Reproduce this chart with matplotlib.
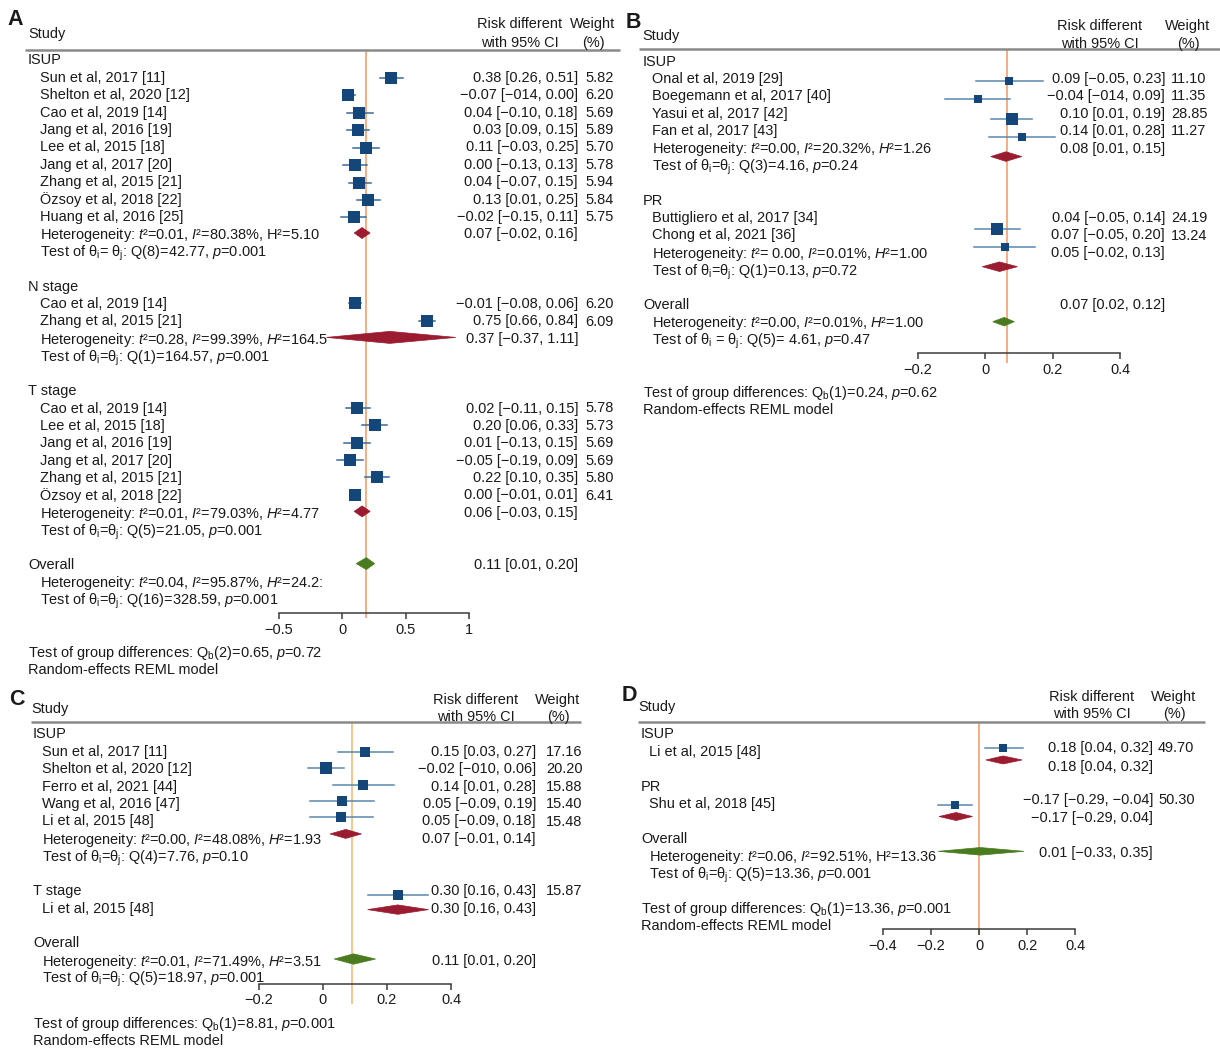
import matplotlib
matplotlib.use("Agg")
import matplotlib.pyplot as plt
from matplotlib.patches import Polygon

plt.rcParams['font.family'] = ['Liberation Sans', 'DejaVu Sans']
plt.rcParams['mathtext.fontset'] = 'custom'
plt.rcParams['mathtext.rm'] = 'Liberation Sans'
plt.rcParams['mathtext.it'] = 'Liberation Sans:italic'
plt.rcParams['mathtext.bf'] = 'Liberation Sans:bold'

T = r"Test of θ$_\mathrm{i}$=θ$_\mathrm{j}$: "

# ---------------- panel A data ----------------
A_labels = ["ISUP", "Sun et al, 2017 [11]", "Shelton et al, 2020 [12]", "Cao et al, 2019 [14]",
            "Jang et al, 2016 [19]", "Lee et al, 2015 [18]", "Jang et al, 2017 [20]",
            "Zhang et al, 2015 [21]", "Özsoy et al, 2018 [22]", "Huang et al, 2016 [25]",
            r"Heterogeneity: $\mathit{t}$²=0.01, $\mathit{I}$²=80.38%, H²=5.10",
            r"Test of θ$_\mathrm{i}$= θ$_\mathrm{j}$: Q(8)=42.77, $\mathit{p}$=0.001", "",
            "N stage", "Cao et al, 2019 [14]", "Zhang et al, 2015 [21]",
            r"Heterogeneity: $\mathit{t}$²=0.28, $\mathit{I}$²=99.39%, $\mathit{H}$²=164.5",
            T + r"Q(1)=164.57, $\mathit{p}$=0.001", "",
            "T stage", "Cao et al, 2019 [14]", "Lee et al, 2015 [18]", "Jang et al, 2016 [19]",
            "Jang et al, 2017 [20]", "Zhang et al, 2015 [21]", "Özsoy et al, 2018 [22]",
            r"Heterogeneity: $\mathit{t}$²=0.01, $\mathit{I}$²=79.03%, $\mathit{H}$²=4.77",
            T + r"Q(5)=21.05, $\mathit{p}$=0.001", "",
            "Overall",
            r"Heterogeneity: $\mathit{t}$²=0.04, $\mathit{I}$²=95.87%, $\mathit{H}$²=24.2:",
            T + r"Q(16)=328.59, $\mathit{p}$=0.001"]
A_vals = ["0.38 [0.26, 0.51]", "−0.07 [−014, 0.00]", "0.04 [−0.10, 0.18]", "0.03 [0.09, 0.15]",
          "0.11 [−0.03, 0.25]", "0.00 [−0.13, 0.13]", "0.04 [−0.07, 0.15]", "0.13 [0.01, 0.25]",
          "−0.02 [−0.15, 0.11]", "0.07 [−0.02, 0.16]",
          "−0.01 [−0.08, 0.06]", "0.75 [0.66, 0.84]", "0.37 [−0.37, 1.11]",
          "0.02 [−0.11, 0.15]", "0.20 [0.06, 0.33]", "0.01 [−0.13, 0.15]", "−0.05 [−0.19, 0.09]",
          "0.22 [0.10, 0.35]", "0.00 [−0.01, 0.01]", "0.06 [−0.03, 0.15]", "0.11 [0.01, 0.20]"]
A_wts = ["5.82", "6.20", "5.69", "5.89", "5.70", "5.78", "5.94", "5.84", "5.75", "",
         "6.20", "6.09", "", "5.78", "5.73", "5.69", "5.69", "5.80", "6.41", "", ""]
A_est = [0.383, 0.047, 0.134, 0.127, 0.187, 0.100, 0.134, 0.200, 0.094,
         0.100, 0.666, 0.120, 0.256, 0.116, 0.062, 0.275, 0.103]
A_lo = [0.298, 0.008, 0.035, 0.040, 0.082, 0.008, 0.053, 0.116, -0.010,
        0.053, 0.610, 0.030, 0.156, 0.010, -0.040, 0.178, 0.090]
A_hi = [0.482, 0.100, 0.240, 0.213, 0.293, 0.198, 0.225, 0.300, 0.190,
        0.147, 0.730, 0.220, 0.353, 0.220, 0.166, 0.370, 0.115]
A_w = [5.82, 6.20, 5.69, 5.89, 5.70, 5.78, 5.94, 5.84, 5.75,
       6.20, 6.09, 5.78, 5.73, 5.69, 5.69, 5.80, 6.41]
A_dest = [0.156, 0.375, 0.156, 0.190]
A_dlo = [0.094, -0.125, 0.094, 0.110]
A_dhi = [0.220, 0.897, 0.220, 0.256]
A_ticks = [-0.5, 0, 0.5, 1]
A_ticklabels = ["−0.5", "0", "0.5", "1"]
A_foot = [r"Test of group differences: Q$_\mathrm{b}$(2)=0.65, $\mathit{p}$=0.72",
          "Random-effects REML model"]

# ---------------- panel B data ----------------
B_labels = ["ISUP", "Onal et al, 2019 [29]", "Boegemann et al, 2017 [40]", "Yasui et al, 2017 [42]",
            "Fan et al, 2017 [43]",
            r"Heterogeneity: $\mathit{t}$²=0.00, $\mathit{I}$²=20.32%, $\mathit{H}$²=1.26",
            T + r"Q(3)=4.16, $\mathit{p}$=0.24", "",
            "PR", "Buttigliero et al, 2017 [34]", "Chong et al, 2021 [36]",
            r"Heterogeneity: $\mathit{t}$²= 0.00, $\mathit{I}$²=0.01%, $\mathit{H}$²=1.00",
            T + r"Q(1)=0.13, $\mathit{p}$=0.72", "",
            "Overall",
            r"Heterogeneity: $\mathit{t}$²=0.00, $\mathit{I}$²=0.01%, $\mathit{H}$²=1.00",
            r"Test of θ$_\mathrm{i}$ = θ$_\mathrm{j}$: Q(5)= 4.61, $\mathit{p}$=0.47"]
B_vals = ["0.09 [−0.05, 0.23]", "−0.04 [−014, 0.09]", "0.10 [0.01, 0.19]", "0.14 [0.01, 0.28]",
          "0.08 [0.01, 0.15]", "0.04 [−0.05, 0.14]", "0.07 [−0.05, 0.20]", "0.05 [−0.02, 0.13]",
          "0.07 [0.02, 0.12]"]
B_wts = ["11.10", "11.35", "28.85", "11.27", "", "24.19", "13.24", "", ""]
B_est = [0.071, -0.022, 0.079, 0.110, 0.037, 0.059]
B_lo = [-0.027, -0.118, 0.017, 0.013, -0.031, -0.034]
B_hi = [0.171, 0.074, 0.140, 0.207, 0.104, 0.148]
B_w = [11.10, 11.35, 28.85, 11.27, 24.19, 13.24]
B_dest = [0.062, 0.043, 0.057]
B_dlo = [0.017, -0.008, 0.023]
B_dhi = [0.109, 0.096, 0.087]
B_ticks = [-0.2, 0, 0.2, 0.4]
B_ticklabels = ["−0.2", "0", "0.2", "0.4"]
B_foot = [r"Test of group differences: Q$_\mathrm{b}$(1)=0.24, $\mathit{p}$=0.62",
          "Random-effects REML model"]

# ---------------- panel C data ----------------
C_labels = ["ISUP", "Sun et al, 2017 [11]", "Shelton et al, 2020 [12]", "Ferro et al, 2021 [44]",
            "Wang et al, 2016 [47]", "Li et al, 2015 [48]",
            r"Heterogeneity: $\mathit{t}$²=0.00, $\mathit{I}$²=48.08%, $\mathit{H}$²=1.93",
            T + r"Q(4)=7.76, $\mathit{p}$=0.10", "",
            "T stage", "Li et al, 2015 [48]", "",
            "Overall",
            r"Heterogeneity: $\mathit{t}$²=0.01, $\mathit{I}$²=71.49%, $\mathit{H}$²=3.51",
            T + r"Q(5)=18.97, $\mathit{p}$=0.001"]
C_vals = ["0.15 [0.03, 0.27]", "−0.02 [−010, 0.06]", "0.14 [0.01, 0.28]", "0.05 [−0.09, 0.19]",
          "0.05 [−0.09, 0.18]", "0.07 [−0.01, 0.14]", "0.30 [0.16, 0.43]", "0.30 [0.16, 0.43]",
          "0.11 [0.01, 0.20]"]
C_wts = ["17.16", "20.20", "15.88", "15.40", "15.48", "", "15.87", "", ""]
C_est = [0.132, 0.009, 0.127, 0.061, 0.057, 0.234]
C_lo = [0.049, -0.045, 0.031, -0.040, -0.040, 0.140]
C_hi = [0.218, 0.066, 0.222, 0.160, 0.156, 0.330]
C_w = [17.16, 20.20, 15.88, 15.40, 15.48, 15.87]
C_dest = [0.072, 0.234, 0.096]
C_dlo = [0.023, 0.140, 0.036]
C_dhi = [0.121, 0.330, 0.165]
C_ticks = [-0.2, 0, 0.2, 0.4]
C_ticklabels = ["−0.2", "0", "0.2", "0.4"]
C_foot = [r"Test of group differences: Q$_\mathrm{b}$(1)=8.81, $\mathit{p}$=0.001",
          "Random-effects REML model"]

# ---------------- panel D data ----------------
D_labels = ["ISUP", "Li et al, 2015 [48]", "", "PR", "Shu et al, 2018 [45]", "",
            "Overall",
            r"Heterogeneity: $\mathit{t}$²=0.06, $\mathit{I}$²=92.51%, H²=13.36",
            T + r"Q(5)=13.36, $\mathit{p}$=0.001"]
D_vals = ["0.18 [0.04, 0.32]", "0.18 [0.04, 0.32]", "−0.17 [−0.29, −0.04]",
          "−0.17 [−0.29, 0.04]", "0.01 [−0.33, 0.35]"]
D_wts = ["49.70", "", "50.30", "", ""]
D_est = [0.100, -0.098]
D_lo = [0.025, -0.170]
D_hi = [0.182, -0.027]
D_w = [49.70, 50.30]
D_dest = [0.100, -0.095, 0.005]
D_dlo = [0.0285, -0.166, -0.170]
D_dhi = [0.179, -0.027, 0.187]
D_ticks = [-0.4, -0.2, 0, 0.2, 0.4]
D_ticklabels = ["−0.4", "−0.2", "0", "0.2", "0.4"]
D_foot = [r"Test of group differences: Q$_\mathrm{b}$(1)=13.36, $\mathit{p}$=0.001",
          "Random-effects REML model"]

GROUPS = ["ISUP", "N stage", "T stage", "PR", "Overall"]

# ---------------- styling ----------------
W, H = 1220, 1049
ROW = 17.4
FS = 10.45
TXT = "#1a1a1a"
SQ = "#15467A"
RED = "#9B1B30"
GRN = "#4A7C1F"
HDR = "#8a8a8a"
AXC = "#3c3c3c"

fig = plt.figure(figsize=(W / 100, H / 100), dpi=100)


def panel(cfg, labels, vals, wts, est, lo, hi, w, dest, dlo, dhi, ticks, ticklabels, foot, letter):
    left, top, width, height = cfg["box"]
    ax = fig.add_axes([left / W, 1 - (top + height) / H, width / W, height / H])
    ax.set_xlim((left - cfg["zero"]) / cfg["unit"], (left + width - cfg["zero"]) / cfg["unit"])
    ax.set_ylim((top + height - cfg["row0"]) / ROW, (top - cfg["row0"]) / ROW)
    ax.patch.set_alpha(0)
    for s in ["top", "left", "right"]:
        ax.spines[s].set_visible(False)
    ax.set_yticks([])
    tr = ax.get_yaxis_transform()

    def fx(px):
        return (px - left) / width

    def put(px, row, s, ha="left", **kw):
        ax.text(fx(px), row, s, transform=tr, ha=ha, va="center_baseline",
                fontsize=kw.pop("fs", FS), color=TXT, **kw)

    # header
    put(cfg["letter_x"], cfg["letter_row"], letter, fs=15.5, fontweight="bold")
    put(cfg["study_x"], cfg["study_row"], "Study")
    put(cfg["rd_x"], cfg["hdr_rows"][0], "Risk different", ha="center")
    put(cfg["rd_x"], cfg["hdr_rows"][1], "with 95% CI", ha="center")
    put(cfg["wt_x"], cfg["hdr_rows"][0], "Weight", ha="center")
    put(cfg["wt_x"], cfg["hdr_rows"][1], "(%)", ha="center")
    ax.plot([fx(cfg["line_x"][0]), fx(cfg["line_x"][1])], [cfg["line_row"]] * 2,
            transform=tr, color=HDR, lw=1.8, clip_on=False, solid_capstyle="butt")

    # study labels
    for i, s in enumerate(labels):
        if not s:
            continue
        x = cfg["group_x"] if s in GROUPS else cfg["study_x2"]
        put(x, i, s)

    for r, s in zip(cfg["vrows"], vals):
        put(cfg["val_x"], r, s, ha="right")
    for r, s in zip(cfg["vrows"], wts):
        if s:
            put(cfg["wt_val_x"], r, s)

    for r, s in zip(cfg["foot_rows"], foot):
        put(cfg["group_x"], r, s)

    # reference line
    ax.vlines(cfg["ref"], cfg["ref_rows"][0], cfg["ref_rows"][1], color=cfg["ref_color"],
              lw=1.3, zorder=1, clip_on=False)

    # study estimates
    for e, l, h, ww, r in zip(est, lo, hi, w, cfg["mrows"]):
        ax.plot([l, h], [r, r], color=cfg["ci_color"], lw=1.1, zorder=2, clip_on=False)
        ms = cfg["k"] * ww ** 0.5 * 0.72
        ax.plot([e], [r], marker="s", ms=ms, color=SQ, mec=SQ, mew=0, zorder=3,
                linestyle="none", clip_on=False)

    # pooled diamonds
    for j, (e, l, h, r) in enumerate(zip(dest, dlo, dhi, cfg["drows"])):
        hh = cfg["dh"][j] / ROW
        col = GRN if j == len(dest) - 1 else RED
        ax.add_patch(Polygon([(l, r), (e, r - hh), (h, r), (e, r + hh)], closed=True,
                             facecolor=col, edgecolor=col, lw=0.5, zorder=3, clip_on=False))

    # x axis
    ax.spines["bottom"].set_position(("data", cfg["axis_row"]))
    ax.spines["bottom"].set_bounds(ticks[0], ticks[-1])
    ax.spines["bottom"].set_color(AXC)
    ax.spines["bottom"].set_linewidth(1.1)
    ax.set_xticks(ticks)
    ax.set_xticklabels(ticklabels)
    ax.tick_params(axis="x", direction="out", length=4, width=1.1, color=AXC,
                   labelsize=FS, labelcolor=TXT, pad=3)
    return ax


A_cfg = dict(box=(0, 0, 620, 680), zero=342.3, unit=126.5, row0=59,
             letter_x=7, letter_row=-2.4, study_x=28, study_row=-1.5, rd_x=520,
             hdr_rows=(-2.07, -1.03), wt_x=593, line_x=(25, 620), line_row=-0.52,
             group_x=28, study_x2=40, val_x=578, wt_val_x=585,
             vrows=[1, 2, 3, 4, 5, 6, 7, 8, 9, 10, 14, 15, 16, 20, 21, 22, 23, 24, 25, 26, 29],
             foot_rows=[34.0, 35.0], ref=0.19, ref_rows=(-0.52, 32.1), ref_color="#F4A77A",
             mrows=[1.08, 2.08, 3.08, 4.1, 5.12, 6.12, 7.1, 8.1, 9.1, 14.05, 15.05,
                    20.05, 21.05, 22.05, 23.05, 24.05, 25.05],
             ci_color="#3A6A98", k=5.1, drows=[10.0, 16.0, 26.0, 29.0], dh=[5.5, 6, 5.5, 6],
             axis_row=31.85)
B_cfg = dict(box=(620, 0, 600, 680), zero=985, unit=337.5, row0=60,
             letter_x=626, letter_row=-2.3, study_x=642, study_row=-1.44, rd_x=1100,
             hdr_rows=(-2.05, -0.98), wt_x=1188, line_x=(639, 1220), line_row=-0.62,
             group_x=643, study_x2=652, val_x=1165, wt_val_x=1171,
             vrows=[1, 2, 3, 4, 5, 9, 10, 11, 14],
             foot_rows=[19.0, 20.0], ref=0.066, ref_rows=(-0.62, 17.4), ref_color="#F4A77A",
             mrows=[1.19, 2.26, 3.39, 4.45, 9.73, 10.77],
             ci_color="#5A87B0", k=2.3, drows=[5.55, 11.88, 15.04], dh=[4.8, 4.8, 4.3],
             axis_row=16.84)
C_cfg = dict(box=(0, 680, 620, 369), zero=322.7, unit=320.6, row0=733,
             letter_x=9, letter_row=-2.07, study_x=31, study_row=-1.44, rd_x=476,
             hdr_rows=(-2.0, -1.03), wt_x=558, line_x=(31, 581), line_row=-0.65,
             group_x=33, study_x2=42, val_x=536, wt_val_x=546,
             vrows=[1, 2, 3, 4, 5, 6, 9, 10, 13],
             foot_rows=[16.6, 17.6], ref=0.092, ref_rows=(-0.65, 15.6), ref_color="#F3C17F",
             mrows=[1.07, 2.03, 2.99, 3.91, 4.85, 9.3],
             ci_color="#5A87B0", k=2.55, drows=[5.8, 10.15, 12.99], dh=[4.5, 4.7, 5.2],
             axis_row=14.4)
D_cfg = dict(box=(620, 680, 600, 369), zero=979, unit=240.8, row0=733,
             letter_x=622, letter_row=-2.3, study_x=638, study_row=-1.6, rd_x=1092,
             hdr_rows=(-2.18, -1.2), wt_x=1174, line_x=(638, 1205), line_row=-0.65,
             group_x=641, study_x2=649, val_x=1153, wt_val_x=1158,
             vrows=[0.8, 1.84, 3.75, 4.81, 6.8],
             foot_rows=[10.0, 11.0], ref=0.0, ref_rows=(-0.65, 11.6), ref_color="#F4A77A",
             mrows=[0.86, 4.14],
             ci_color="#5A87B0", k=1.13, drows=[1.55, 4.8, 6.8], dh=[4, 4, 3.8],
             axis_row=11.26)

panel(A_cfg, A_labels, A_vals, A_wts, A_est, A_lo, A_hi, A_w, A_dest, A_dlo, A_dhi,
      A_ticks, A_ticklabels, A_foot, "A")
panel(B_cfg, B_labels, B_vals, B_wts, B_est, B_lo, B_hi, B_w, B_dest, B_dlo, B_dhi,
      B_ticks, B_ticklabels, B_foot, "B")
panel(C_cfg, C_labels, C_vals, C_wts, C_est, C_lo, C_hi, C_w, C_dest, C_dlo, C_dhi,
      C_ticks, C_ticklabels, C_foot, "C")
panel(D_cfg, D_labels, D_vals, D_wts, D_est, D_lo, D_hi, D_w, D_dest, D_dlo, D_dhi,
      D_ticks, D_ticklabels, D_foot, "D")

fig.savefig("out.png", dpi=100, facecolor="white")
